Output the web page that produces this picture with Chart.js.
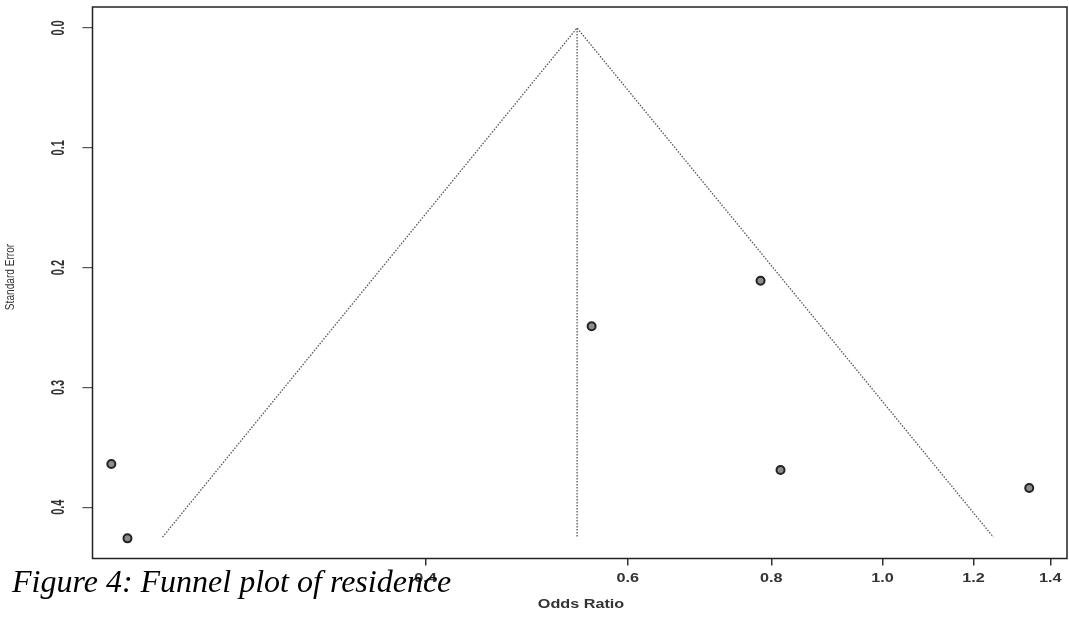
<!DOCTYPE html>
<html>
<head>
<meta charset="utf-8">
<script src="https://cdn.jsdelivr.net/npm/chart.js@4.4.1/dist/chart.umd.min.js"></script>
<style>
  html, body { margin: 0; padding: 0; background: #fff; }
  #wrap { width: 1069px; height: 618px; }
</style>
</head>
<body>
<div id="wrap"><canvas id="funnel" width="1069" height="618"></canvas></div>
<script>
// studies (odds ratio, standard error)
const studyOR = [0.213, 0.220, 0.558, 0.783, 0.815, 1.342];
const studySE = [0.364, 0.426, 0.249, 0.211, 0.369, 0.384];
// pooled estimate + pseudo confidence funnel
const pooledOR = 0.542;
const funnelOR = [0.236, 0.542, 1.249];
const funnelSE = [0.425, 0.0, 0.425];
const xTicks = [0.4, 0.6, 0.8, 1.0, 1.2, 1.4];
const yTicks = [0.0, 0.1, 0.2, 0.3, 0.4];
const xTitle = 'Odds Ratio';
const yTitle = 'Standard Error';
const caption = 'Figure 4: Funnel plot of residence';

const studies = studyOR.map((or, i) => ({ x: or, y: studySE[i] }));
const funnel = funnelOR.map((or, i) => ({ x: or, y: funnelSE[i] }));
const centre = [{ x: pooledOR, y: 0 }, { x: pooledOR, y: funnelSE[0] }];

// draw text with a stretch, the source image is squashed
function drawText(ctx, text, x, y, opts) {
    ctx.save();
    ctx.translate(x, y);
    if (opts.rotate) ctx.rotate(-Math.PI / 2);
    ctx.scale(opts.sx || 1, opts.sy || 1);
    ctx.font = opts.font;
    ctx.fillStyle = opts.color || '#333';
    ctx.textAlign = opts.align || 'center';
    ctx.textBaseline = opts.baseline || 'middle';
    ctx.fillText(text, 0, 0);
    ctx.restore();
}

const decorations = {
    id: 'decorations',
    afterDraw(chart) {
        const ctx = chart.ctx;
        const area = chart.chartArea;
        const xs = chart.scales.x;
        const ys = chart.scales.y;

        // box round the plot
        ctx.save();
        ctx.strokeStyle = '#222';
        ctx.lineWidth = 1.5;
        ctx.strokeRect(area.left, area.top, area.right - area.left, area.bottom - area.top);
        ctx.restore();

        xs.ticks.forEach(t => {
            drawText(ctx, t.value.toFixed(1), xs.getPixelForValue(t.value), 579,
                { font: 'bold 12px "Liberation Sans", Arial, sans-serif', sx: 1.35 });
        });
        ys.ticks.forEach(t => {
            drawText(ctx, t.value.toFixed(1), 59, ys.getPixelForValue(t.value),
                { font: 'bold 11px "Liberation Sans", Arial, sans-serif', rotate: true, sy: 1.6 });
        });

        drawText(ctx, xTitle, 581, 605, { font: 'bold 12px "Liberation Sans", Arial, sans-serif', sx: 1.35 });
        drawText(ctx, yTitle, 11, 277, { font: '11px "Liberation Sans", Arial, sans-serif', rotate: true, sx: 0.92, sy: 1.15 });

        drawText(ctx, caption, 12, 592, {
            font: 'italic 32px "Liberation Serif", "Times New Roman", serif',
            color: '#000', align: 'left', baseline: 'alphabetic'
        });
    }
};

const ctx = document.getElementById('funnel').getContext('2d');
new Chart(ctx, {
    type: 'scatter',
    data: {
        datasets: [{
            label: 'funnel',
            data: funnel,
            showLine: true,
            borderColor: '#555',
            borderWidth: 1.3,
            borderDash: [1.5, 1.5],
            pointRadius: 0,
            fill: false
        }, {
            label: 'pooled',
            data: centre,
            showLine: true,
            borderColor: '#555',
            borderWidth: 1.3,
            borderDash: [1.5, 1.5],
            pointRadius: 0,
            fill: false
        }, {
            label: 'studies',
            data: studies,
            pointRadius: 4,
            pointBackgroundColor: '#8c8c8c',
            pointBorderColor: '#222',
            pointBorderWidth: 2
        }]
    },
    options: {
        responsive: false,
        animation: false,
        layout: { autoPadding: false, padding: { left: 0, right: 2, top: 7, bottom: 0 } },
        plugins: {
            legend: { display: false },
            tooltip: { enabled: false }
        },
        scales: {
            x: {
                type: 'logarithmic',
                min: 0.2051,
                max: 1.4476,
                afterBuildTicks: axis => { axis.ticks = xTicks.map(v => ({ value: v })); },
                afterFit: axis => { axis.height = 59.5; },
                ticks: { display: false },
                grid: { drawOnChartArea: false, drawTicks: true, tickLength: 7, color: '#333', lineWidth: 1.5 },
                border: { display: false }
            },
            y: {
                reverse: true,
                min: -0.0175,
                max: 0.4428,
                afterBuildTicks: axis => { axis.ticks = yTicks.map(v => ({ value: v })); },
                afterFit: axis => { axis.width = 92.5; },
                ticks: { display: false },
                grid: { drawOnChartArea: false, drawTicks: true, tickLength: 10, color: '#555', lineWidth: 1.2 },
                border: { display: false }
            }
        }
    },
    plugins: [decorations]
});
</script>
</body>
</html>
